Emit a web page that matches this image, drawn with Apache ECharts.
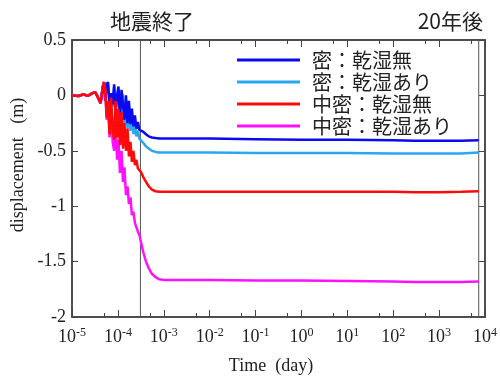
<!DOCTYPE html>
<html>
<head>
<meta charset="utf-8">
<script src="https://cdn.jsdelivr.net/npm/echarts@6/dist/echarts.min.js"></script>
<style>
  html, body { margin: 0; padding: 0; background: #fff; }
  #chart { width: 500px; height: 376px; }
</style>
</head>
<body>
<div id="chart"></div>
<script>
// time (day), shared by all four runs
const times = [
  1.0e-5, 1.4e-5, 1.8e-5, 2.2e-5, 2.8e-5, 3.2e-5, 3.5e-5, 4.2e-5, 4.7e-5, 5.0e-5,
  5.3e-5, 5.7e-5, 6.1e-5, 6.6e-5, 7.1e-5, 7.7e-5, 8.3e-5, 8.9e-5, 9.6e-5, 1.03e-4,
  1.11e-4, 1.2e-4, 1.29e-4, 1.39e-4, 1.5e-4, 1.62e-4, 1.74e-4, 1.88e-4, 2.02e-4, 2.18e-4,
  2.35e-4, 2.53e-4, 2.73e-4, 2.94e-4, 3.17e-4,
  3.6e-4, 4.1e-4, 4.7e-4, 5.5e-4, 6.6e-4, 8.0e-4,
  1e-3, 1e-2, 1e-1, 1, 10, 100, 300, 1000, 3000, 7300
];

const names = ['密：乾湿無', '密：乾湿あり', '中密：乾湿無', '中密：乾湿あり'];
const colors = ['#0a0af0', '#2aa8ee', '#ff0a0a', '#ff10ff'];

// displacement (m)
const dispDense = [
  0, -0.005, 0.01, -0.005, 0.02, 0.03, 0.0, -0.07, 0.08, 0.12,
  -0.05, 0.1, 0.12, -0.1, 0.02, -0.08, 0.1, -0.15, 0.0, 0.08,
  -0.2, 0.05, 0.06, -0.22, 0.0, -0.25, -0.05, -0.26, -0.12, -0.28,
  -0.18, -0.3, -0.24, -0.31, -0.3,
  -0.33, -0.35, -0.37, -0.38, -0.385, -0.39,
  -0.39, -0.39, -0.395, -0.4, -0.4, -0.405, -0.41, -0.41, -0.41, -0.405
];
const dispDenseWet = [
  0, -0.005, 0.01, -0.005, 0.02, 0.03, 0.0, -0.07, 0.08, 0.12,
  -0.05, 0.08, 0.1, -0.12, 0.0, -0.1, 0.08, -0.18, -0.02, 0.05,
  -0.24, 0.02, 0.0, -0.27, -0.05, -0.3, -0.1, -0.32, -0.18, -0.35,
  -0.25, -0.37, -0.32, -0.39, -0.4,
  -0.43, -0.46, -0.48, -0.5, -0.51, -0.515,
  -0.515, -0.515, -0.52, -0.52, -0.52, -0.525, -0.525, -0.525, -0.525, -0.515
];
const dispMedium = [
  0, -0.005, 0.01, -0.005, 0.02, 0.03, 0.0, -0.07, 0.08, 0.12,
  0.05, -0.2, -0.05, -0.35, -0.02, -0.3, -0.4, -0.05, -0.38, -0.12,
  -0.45, -0.15, -0.48, -0.25, -0.5, -0.3, -0.55, -0.42, -0.6, -0.5,
  -0.63, -0.58, -0.66, -0.65, -0.69,
  -0.74, -0.78, -0.82, -0.85, -0.865, -0.87,
  -0.87, -0.87, -0.87, -0.87, -0.87, -0.87, -0.875, -0.875, -0.87, -0.865
];
const dispMediumWet = [
  0, -0.005, 0.01, -0.005, 0.02, 0.03, 0.0, -0.07, 0.08, 0.12,
  0.05, -0.22, -0.08, -0.38, -0.1, -0.42, -0.5, -0.2, -0.58, -0.4,
  -0.7, -0.5, -0.78, -0.65, -0.9, -0.82, -0.98, -0.92, -1.08, -1.05,
  -1.15, -1.14, -1.23, -1.26, -1.32,
  -1.42, -1.5, -1.56, -1.61, -1.64, -1.66,
  -1.665, -1.665, -1.67, -1.67, -1.675, -1.68, -1.685, -1.685, -1.685, -1.68
];

// 地震終了 and 20年後
const eventTimes = [3.1e-4, 7300];
const minorTicks = [5e-5, 5e-4, 5e-3, 5e-2, 5e-1, 5, 50, 500, 5000];
const yMin = -2, yMax = 0.5;

const serif = '"Liberation Serif", "DejaVu Serif", serif';
const jp = '"Noto Sans CJK JP", sans-serif';
const axisColor = '#444';
const noLabel = { show: true, formatter: () => '' };

const chart = echarts.init(document.getElementById('chart'));

const pairs = arr => times.map((t, i) => [t, arr[i]]);

const mkSeries = (idx, arr) => ({
  name: names[idx],
  type: 'line',
  symbol: 'none',
  data: pairs(arr),
  lineStyle: { color: colors[idx], width: 2.5 },
  itemStyle: { color: colors[idx] },
  animation: false
});

// 地震終了 / 20年後 marker lines
const eventSeries = eventTimes.map(t => ({
  type: 'line',
  symbol: 'none',
  silent: true,
  animation: false,
  xAxisIndex: 1,
  yAxisIndex: 1,
  data: [[t, yMin], [t, yMax]],
  lineStyle: { color: '#555', width: 1 }
}));

const logAxis = (pos, opts) => Object.assign({
  type: 'log',
  position: pos,
  min: 1e-5,
  max: 1e4,
  splitLine: { show: false },
  axisLine: { show: true, onZero: false, lineStyle: { color: axisColor, width: 1.5 } },
  axisTick: { show: true, inside: true, length: 7, lineStyle: { color: axisColor } },
  axisLabel: noLabel
}, opts);

const minorAxis = pos => logAxis(pos, {
  axisLine: { show: false, onZero: false },
  axisTick: { show: true, inside: true, length: 4, customValues: minorTicks, lineStyle: { color: axisColor } }
});

const valAxis = (pos, opts) => Object.assign({
  type: 'value',
  position: pos,
  min: yMin,
  max: yMax,
  interval: 0.5,
  splitLine: { show: false },
  axisLine: { show: true, onZero: false, lineStyle: { color: axisColor, width: 1.5 } },
  axisTick: { show: true, inside: true, length: 6, lineStyle: { color: axisColor } },
  axisLabel: noLabel
}, opts);

const option = {
  backgroundColor: '#fff',
  title: [
    { text: '地震終了', left: 105, top: 6, textStyle: { fontFamily: jp, fontSize: 21, fontWeight: 'normal', color: '#222' } },
    { text: '20年後', right: 12, top: 6, textStyle: { fontFamily: jp, fontSize: 21, fontWeight: 'normal', color: '#222' } }
  ],
  grid: { left: 72, right: 12, top: 40, bottom: 59, show: true, borderColor: axisColor, borderWidth: 1.5, backgroundColor: 'transparent' },
  legend: {
    data: names,
    icon: 'rect',
    orient: 'vertical',
    left: 232,
    top: 45,
    itemWidth: 63,
    itemHeight: 3,
    itemGap: 2,
    textStyle: { fontFamily: jp, fontSize: 20, color: '#222', padding: [0, 0, 0, 7], lineHeight: 20 }
  },
  // axis titles
  graphic: [
    {
      type: 'text',
      x: 18,
      y: 165,
      rotation: Math.PI / 2,
      style: { text: 'displacement   (m)', fontFamily: serif, fontSize: 18, fill: '#222', align: 'center', verticalAlign: 'middle' }
    },
    {
      type: 'text',
      x: 271,
      y: 366,
      style: { text: 'Time  (day)', fontFamily: serif, fontSize: 18, fill: '#222', align: 'center', verticalAlign: 'middle' }
    }
  ],
  xAxis: [
    logAxis('bottom', {
      axisLabel: {
        show: true,
        margin: 10,
        formatter: v => '{b|10}{s|' + Math.round(Math.log10(v)) + '}',
        rich: {
          b: { fontFamily: serif, fontSize: 18, color: '#222' },
          s: { fontFamily: serif, fontSize: 12, color: '#222', padding: [0, 0, 9, 0] }
        }
      }
    }),
    logAxis('top', {}),
    minorAxis('bottom'),
    minorAxis('top')
  ],
  yAxis: [
    valAxis('left', {
      axisLabel: { show: true, fontFamily: serif, fontSize: 18, color: '#222', margin: 6, formatter: v => String(v) }
    }),
    valAxis('right', {})
  ],
  series: [
    ...eventSeries,
    mkSeries(1, dispDenseWet),
    mkSeries(0, dispDense),
    mkSeries(3, dispMediumWet),
    mkSeries(2, dispMedium)
  ]
};

chart.setOption(option);
</script>
</body>
</html>
